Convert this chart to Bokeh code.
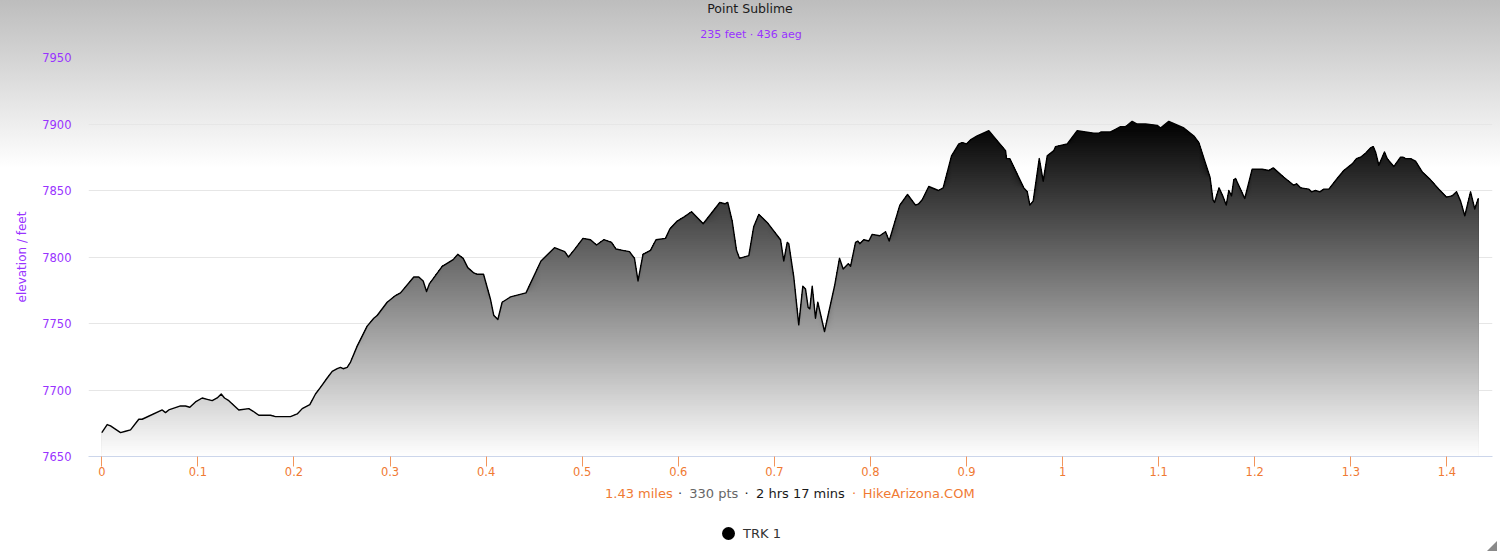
import numpy as np
from bokeh.plotting import figure
from bokeh.layouts import column
from bokeh.models import Range1d, FixedTicker, NumeralTickFormatter, Div
from bokeh.embed import file_html
from bokeh.resources import INLINE

# ---------------- data ----------------
title_text = "Point Sublime"
subtitle_text = "235 feet \u00b7 436 aeg"
y_title = "elevation / feet"
series_name = "TRK 1"
footer_parts = ["1.43 miles", "330 pts", "2 hrs 17 mins", "HikeArizona.COM"]

x_ticks = [0, 0.1, 0.2, 0.3, 0.4, 0.5, 0.6, 0.7, 0.8, 0.9, 1.0, 1.1, 1.2, 1.3, 1.4]
y_ticks = [7650, 7700, 7750, 7800, 7850, 7900, 7950]

miles = [
    0.000, 0.0056, 0.0091, 0.0195, 0.0247, 0.0299, 0.0385, 0.0420, 0.0629, 0.0663,
    0.0697, 0.0819, 0.0871, 0.0916, 0.0975, 0.1045, 0.1097, 0.1149, 0.1201, 0.1243,
    0.1277, 0.1322, 0.1426, 0.1530, 0.1576, 0.1634, 0.1756, 0.1808, 0.1878, 0.1964,
    0.2034, 0.2086, 0.2165, 0.2224, 0.2276, 0.2346, 0.2398, 0.2450, 0.2484, 0.2512,
    0.2554, 0.2589, 0.2658, 0.2762, 0.2831, 0.2866, 0.2970, 0.3057, 0.3109, 0.3247,
    0.3299, 0.3345, 0.3380, 0.3411, 0.3543, 0.3657, 0.3705, 0.3761, 0.3809, 0.3872,
    0.3907, 0.3973, 0.4046, 0.4080, 0.4122, 0.4167, 0.4254, 0.4415, 0.4571, 0.4712,
    0.4818, 0.4857, 0.4913, 0.5008, 0.5086, 0.5149, 0.5225, 0.5305, 0.5352, 0.5419,
    0.5492, 0.5544, 0.5581, 0.5633, 0.5711, 0.5768, 0.5867, 0.5912, 0.5989, 0.6057,
    0.6138, 0.6259, 0.6432, 0.6484, 0.6515, 0.6561, 0.6606, 0.6637, 0.6734, 0.6786,
    0.6838, 0.6925, 0.7064, 0.7098, 0.7134, 0.7150, 0.7202, 0.7254, 0.7296, 0.7324,
    0.7352, 0.7369, 0.7394, 0.7428, 0.7452, 0.7522, 0.7626, 0.7678, 0.7716, 0.7769,
    0.7793, 0.7845, 0.7869, 0.7889, 0.7931, 0.7983, 0.8018, 0.8097, 0.8157, 0.8195,
    0.8306, 0.8386, 0.8469, 0.8503, 0.8539, 0.8607, 0.8708, 0.8757, 0.8844, 0.8920,
    0.8955, 0.9000, 0.9041, 0.9111, 0.9232, 0.9312, 0.9406, 0.9416, 0.9450, 0.9596,
    0.9632, 0.9659, 0.9694, 0.9757, 0.9798, 0.9840, 0.9909, 0.9927, 1.0048, 1.0152,
    1.0325, 1.0377, 1.0402, 1.0499, 1.0551, 1.0603, 1.0655, 1.0673, 1.0724, 1.0776,
    1.0863, 1.0985, 1.1019, 1.1105, 1.1262, 1.1366, 1.1418, 1.1534, 1.1565, 1.1581,
    1.1628, 1.1672, 1.1703, 1.1730, 1.1758, 1.1782, 1.1800, 1.1896, 1.1973, 1.2077,
    1.2146, 1.2192, 1.2302, 1.2406, 1.2435, 1.2476, 1.2563, 1.2591, 1.2632, 1.2677,
    1.2719, 1.2771, 1.2858, 1.2927, 1.3014, 1.3059, 1.3101, 1.3153, 1.3205, 1.3233,
    1.3257, 1.3291, 1.3350, 1.3378, 1.3447, 1.3517, 1.3545, 1.3569, 1.3621, 1.3673,
    1.3743, 1.3829, 1.3916, 1.3996, 1.4055, 1.4100, 1.4142, 1.4186, 1.4246, 1.4290, 1.4326,
]

elev = [
    7668, 7674, 7673, 7668, 7669, 7670, 7678, 7678, 7685, 7683,
    7685, 7688, 7688, 7687, 7691, 7694, 7693, 7692, 7694, 7697,
    7694, 7692, 7685, 7686, 7684, 7681, 7681, 7680, 7680, 7680,
    7682, 7686, 7689, 7697, 7702, 7709, 7714, 7716, 7717, 7716,
    7717, 7721, 7733, 7748, 7754, 7756, 7766, 7771, 7773, 7785,
    7785, 7782, 7774, 7780, 7793, 7798, 7802, 7799, 7792, 7788,
    7787, 7787, 7768, 7756, 7753, 7766, 7770, 7773, 7797, 7807,
    7804, 7800, 7805, 7814, 7813, 7809, 7813, 7811, 7806, 7805,
    7804, 7799, 7782, 7802, 7805, 7813, 7814, 7821, 7827, 7830,
    7834, 7825, 7841, 7840, 7841, 7827, 7805, 7799, 7801, 7823,
    7832, 7826, 7813, 7797, 7811, 7810, 7785, 7749, 7778, 7776,
    7762, 7761, 7778, 7754, 7766, 7744, 7778, 7799, 7791, 7795,
    7793, 7811, 7812, 7810, 7813, 7812, 7817, 7816, 7819, 7812,
    7839, 7847, 7839, 7840, 7843, 7853, 7850, 7852, 7876, 7885,
    7886, 7885, 7888, 7891, 7895, 7888, 7880, 7874, 7874, 7852,
    7849, 7839, 7842, 7874, 7857, 7876, 7880, 7883, 7885, 7895,
    7893, 7893, 7894, 7894, 7896, 7898, 7898, 7899, 7902, 7900,
    7900, 7899, 7897, 7902, 7897, 7891, 7886, 7860, 7843, 7841,
    7852, 7845, 7839, 7850, 7846, 7858, 7859, 7844, 7866, 7866,
    7865, 7867, 7860, 7854, 7855, 7852, 7851, 7849, 7850, 7849,
    7851, 7851, 7859, 7865, 7870, 7874, 7875, 7878, 7882, 7883,
    7879, 7869, 7879, 7874, 7868, 7875, 7875, 7874, 7874, 7872,
    7864, 7858, 7851, 7845, 7846, 7849, 7842, 7831, 7849, 7836, 7844,
]

# ---------------- style ----------------
FONT = "DejaVu Sans"
PURPLE = "#9933ff"
ORANGE = "#f07a33"
TICK_ORANGE = "#f2955c"
W = 1500
TOP_H = 45      # title block
FIG_H = 437     # plot block
BOT_H = 71      # footer + legend block

# ---------------- title block ----------------
top_html = (
    f"<div style=\"position:relative;width:{W}px;height:{TOP_H}px;font-family:'{FONT}',sans-serif;\">"
    f"<div style=\"position:absolute;left:0;top:0;width:{W}px;text-align:center;"
    f"font-size:12.5px;line-height:17px;color:#1a1a1a;white-space:nowrap;\">{title_text}</div>"
    f"<div style=\"position:absolute;left:1px;top:27px;width:{W}px;text-align:center;"
    f"font-size:11px;line-height:15px;color:{PURPLE};white-space:nowrap;\">{subtitle_text}</div>"
    "</div>"
)
top = Div(text=top_html, width=W, height=TOP_H, margin=0)

# ---------------- plot ----------------
p = figure(
    width=W, height=FIG_H,
    output_backend="svg", toolbar_location=None,
    x_range=Range1d(-0.01384, 1.44743),
    y_range=Range1d(y_ticks[0], y_ticks[-1]),
    min_border_left=88, min_border_right=8, min_border_top=12, min_border_bottom=26,
    background_fill_color=None, border_fill_color=None, outline_line_color=None,
    margin=0,
)

# gradient-filled area: stacked bands from black (highest) to white (axis floor)
e_arr = np.array(elev, dtype=float)
ytop = float(e_arr.max())
ybot = float(y_ticks[0])
n_bands = 160
dy = (ytop - ybot) / n_bands
for k in range(n_bands):
    cap = ytop - k * dy
    g = int(round(255 * (k + 0.5) / n_bands))
    col = "#%02x%02x%02x" % (g, g, g)
    p.varea(x=miles, y1=ybot, y2=np.minimum(e_arr, cap), fill_color=col, fill_alpha=1.0)

p.line(miles, elev, line_color="black", line_width=1.4, line_join="round")

p.xgrid.grid_line_color = None
p.ygrid.grid_line_color = "#e6e6e6"
p.ygrid.grid_line_width = 1

xa = p.xaxis[0]
xa.ticker = FixedTicker(ticks=x_ticks)
xa.formatter = NumeralTickFormatter(format="0.[0]")
xa.axis_line_color = "#ccd6eb"
xa.axis_line_width = 1
xa.major_tick_line_color = TICK_ORANGE
xa.major_tick_out = 10
xa.major_tick_in = 0
xa.minor_tick_line_color = None
xa.major_label_standoff = 0
xa.major_label_text_color = ORANGE
xa.major_label_text_font = FONT
xa.major_label_text_font_size = "11.5px"

ya = p.yaxis[0]
ya.ticker = FixedTicker(ticks=y_ticks)
ya.axis_line_color = None
ya.major_tick_line_color = None
ya.minor_tick_line_color = None
ya.major_tick_out = 0
ya.major_tick_in = 0
ya.major_label_standoff = 17
ya.major_label_text_color = PURPLE
ya.major_label_text_font = FONT
ya.major_label_text_font_size = "11.5px"
ya.axis_label = y_title
ya.axis_label_text_color = PURPLE
ya.axis_label_text_font = FONT
ya.axis_label_text_font_size = "12px"
ya.axis_label_text_font_style = "normal"
ya.axis_label_standoff = 10

# ---------------- footer + legend block ----------------
footer_colors = [ORANGE, "#666666", "#1a1a1a", ORANGE]
footer_left = [605, 689.3, 756, 862.7]
dot_colors = ["#444444", "#1a1a1a", ORANGE]
dot_center = [680, 746.7, 854]

pieces = []
for t, c, lx in zip(footer_parts, footer_colors, footer_left):
    pieces.append(
        f"<div style=\"position:absolute;left:{lx}px;top:3px;font-size:13px;line-height:17px;"
        f"white-space:nowrap;color:{c};\">{t}</div>")
for c, cx in zip(dot_colors, dot_center):
    pieces.append(
        f"<div style=\"position:absolute;left:{cx - 10}px;width:20px;top:3px;text-align:center;"
        f"font-size:13px;line-height:17px;color:{c};\">\u00b7</div>")

bot_html = (
    f"<div style=\"position:relative;width:{W}px;height:{BOT_H}px;font-family:'{FONT}',sans-serif;\">"
    + "".join(pieces) +
    "<div style=\"position:absolute;left:722px;top:44.5px;width:13px;height:13px;border-radius:50%;background:#000000;\"></div>"
    f"<div style=\"position:absolute;left:743px;top:42.5px;font-size:13px;line-height:17px;color:#333333;white-space:nowrap;\">{series_name}</div>"
    "<div style=\"position:absolute;left:1487px;top:59px;width:0;height:0;border-left:10px solid transparent;border-bottom:10px solid #8a8a8a;\"></div>"
    "</div>"
)
bottom = Div(text=bot_html, width=W, height=BOT_H, margin=0)

layout = column(
    top, p, bottom, spacing=0, width=W, height=TOP_H + FIG_H + BOT_H,
    styles={"background": "linear-gradient(180deg, #bdbdbd 0px, #ffffff 168px, #ffffff 100%)"},
)

open("out.html", "w").write(file_html(layout, INLINE))
